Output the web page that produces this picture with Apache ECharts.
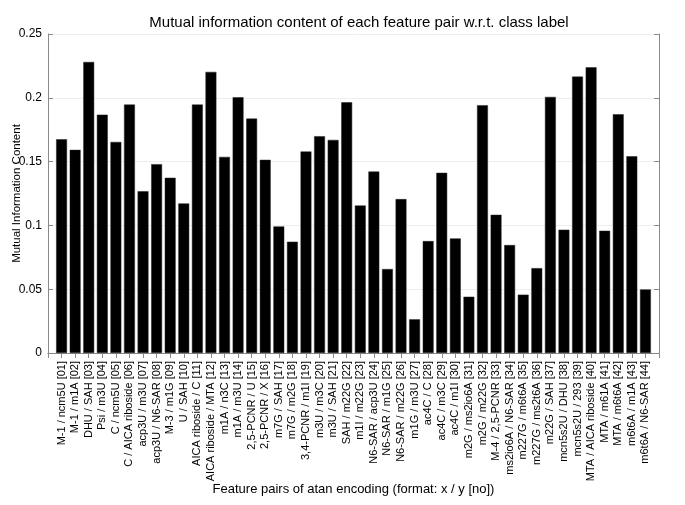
<!DOCTYPE html>
<html><head><meta charset="utf-8">
<script src="https://cdn.jsdelivr.net/npm/echarts@6/dist/echarts.min.js"></script>
<style>html,body{margin:0;padding:0;background:#fff}#c{width:685px;height:505px}</style>
</head><body><div id="c"></div>
<script>
const pairs = ["M-1 / ncm5U","M-1 / m1A","DHU / SAH","Psi / m3U","C / ncm5U","C / AICA riboside","acp3U / m3U","acp3U / N6-SAR","M-3 / m1G","U / SAH","AICA riboside / C","AICA riboside / MTA","m1A / n3C","m1A / m3U","2,5-PCNR / U","2,5-PCNR / X","m7G / SAH","m7G / m2G","3,4-PCNR / m1I","m3U / m3C","m3U / SAH","SAH / m22G","m1I / m22G","N6-SAR / acp3U","N6-SAR / m1G","N6-SAR / m22G","m1G / m3U","ac4C / C","ac4C / m3C","ac4C / m1I","m2G / ms2io6A","m2G / m22G","M-4 / 2,5-PCNR","ms2io6A / N6-SAR","m227G / m6t6A","m227G / ms2t6A","m22G / SAH","mcn5s2U / DHU","mcn5s2U / 293","MTA / AICA riboside","MTA / m61A","MTA / m6t6A","m6t6A / m1A","m6t6A / N6-SAR"];
const values = [0.1675,0.1592,0.2281,0.1868,0.1654,0.1947,0.1268,0.148,0.1373,0.1172,0.1947,0.2203,0.1537,0.2004,0.1837,0.1514,0.0992,0.0872,0.1579,0.1699,0.167,0.1965,0.1156,0.1422,0.0658,0.1206,0.0264,0.0877,0.1412,0.0898,0.0441,0.1942,0.1083,0.0846,0.0457,0.0665,0.2007,0.0966,0.2166,0.2239,0.0958,0.1871,0.1542,0.0498];
const yTicks = [0,0.05,0.1,0.15,0.2,0.25];

const labels = pairs.map((p,i)=> p + ' [' + String(i+1).padStart(2,'0') + ']');
const cats = [''].concat(labels, ['']);
const data = [null].concat(values, [null]);
const font = 'Liberation Sans, Arial, sans-serif';
const frame = '#8a8a8a';
const chart = echarts.init(document.getElementById('c'));
chart.setOption({
  animation:false,
  title:{text:'Mutual information content of each feature pair w.r.t. class label', left:354, top:10, textAlign:'center',
    textStyle:{fontFamily:font, fontSize:15, fontWeight:'normal', color:'#000'}},
  grid:{left:48, right:26, top:34, bottom:152, outerBoundsMode:'none', containLabel:false},
  xAxis:[{type:'category', data:cats, boundaryGap:false, position:'bottom',
    name:'Feature pairs of atan encoding (format: x / y [no])', nameLocation:'middle', nameGap:130, nameMoveOverlap:false,
    nameTextStyle:{fontFamily:font, fontSize:13, color:'#000'},
    axisLine:{lineStyle:{color:frame}}, axisTick:{show:false},
    axisLabel:{interval:0, rotate:90, fontFamily:font, fontSize:11, color:'#000', margin:8}},
   {type:'category', data:cats, boundaryGap:false, position:'top',
    axisLine:{lineStyle:{color:frame}}, axisTick:{show:true, inside:true, length:5, interval:0, lineStyle:{color:frame}},
    axisLabel:{show:false}}],
  yAxis:[{type:'value', min:0, max:0.25, interval:0.05,
    name:'Mutual Information Content', nameLocation:'middle', nameGap:25, nameMoveOverlap:false,
    nameTextStyle:{fontFamily:font, fontSize:11.5, color:'#000'},
    axisLine:{show:true, lineStyle:{color:frame}}, axisTick:{show:true, inside:true, length:5, lineStyle:{color:frame}},
    splitLine:{show:true, lineStyle:{color:'#eeeeee'}},
    axisLabel:{fontFamily:font, fontSize:12, color:'#000', margin:6, formatter:v=>yTicks.includes(+v.toFixed(2))?String(+v.toFixed(2)):''}},
   {type:'value', min:0, max:0.25, interval:0.05, position:'right',
    axisLine:{show:true, lineStyle:{color:frame}}, axisTick:{show:true, inside:true, length:5, lineStyle:{color:frame}},
    splitLine:{show:false}, axisLabel:{show:false}}],
  series:[{type:'bar', data:data, barWidth:'80%', itemStyle:{color:'#000', borderColor:'#222', borderWidth:0.5}}]
});
</script></body></html>
